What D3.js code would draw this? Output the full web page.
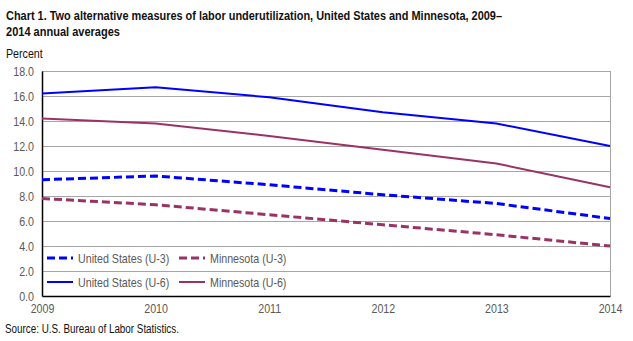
<!DOCTYPE html>
<html>
<head>
<meta charset="utf-8">
<script src="https://cdn.jsdelivr.net/npm/d3@7"></script>
<style>
  body { margin: 0; background: #fff; }
  svg { display: block; font-family: Arial, "Liberation Sans", sans-serif; }
</style>
</head>
<body>
<svg width="633" height="341"></svg>
<script>
const YEARS = [2009, 2010, 2011, 2012, 2013, 2014]
const US_U3 = [9.3, 9.6, 8.9, 8.1, 7.4, 6.2]
const MN_U3 = [7.8, 7.3, 6.5, 5.7, 4.9, 4.0]
const US_U6 = [16.2, 16.7, 15.9, 14.7, 13.8, 12.0]
const MN_U6 = [14.2, 13.8, 12.8, 11.7, 10.6, 8.7]
const Y_TICKS = [0, 2, 4, 6, 8, 10, 12, 14, 16, 18]

const BLUE = '#0000ff'
const PLUM = '#993366'
const FONT = 'Arial, "Liberation Sans", sans-serif'
const SQUEEZE = 0.82

const series = [
  { name: 'United States (U-3)', values: US_U3, color: BLUE, dash: '8,4', width: 3 },
  { name: 'Minnesota (U-3)', values: MN_U3, color: PLUM, dash: '8,4', width: 3 },
  { name: 'United States (U-6)', values: US_U6, color: BLUE, dash: null, width: 2 },
  { name: 'Minnesota (U-6)', values: MN_U6, color: PLUM, dash: null, width: 2 }
]

// the reference uses a narrow-looking face, so compress text horizontally
function squeeze (sel, factor) {
  sel.each(function () {
    const len = this.getComputedTextLength()
    d3.select(this)
      .attr('textLength', len * factor)
      .attr('lengthAdjust', 'spacingAndGlyphs')
  })
}

const svg = d3.select('svg')
const margin = { left: 42, right: 23, top: 71, bottom: 45 }
const width = 633 - margin.left - margin.right
const height = 341 - margin.top - margin.bottom

const x = d3.scaleLinear().domain([2009, 2014]).range([0, width])
const y = d3.scaleLinear().domain([0, 18]).range([height, 0])

// title
svg.append('text')
  .attr('x', 6).attr('y', 20)
  .attr('font-weight', 'bold').attr('font-size', 13).attr('fill', '#111')
  .attr('textLength', 496).attr('lengthAdjust', 'spacingAndGlyphs')
  .text('Chart 1. Two alternative measures of labor underutilization, United States and Minnesota, 2009\u2013')
svg.append('text')
  .attr('x', 6).attr('y', 36)
  .attr('font-weight', 'bold').attr('font-size', 13).attr('fill', '#111')
  .attr('textLength', 114).attr('lengthAdjust', 'spacingAndGlyphs')
  .text('2014 annual averages')

svg.append('text')
  .attr('x', 6).attr('y', 58)
  .attr('font-size', 13).attr('fill', '#111')
  .text('Percent')
  .call(squeeze, SQUEEZE)

const g = svg.append('g').attr('transform', `translate(${margin.left},${margin.top})`)

// gridlines
g.append('g')
  .selectAll('line')
  .data(Y_TICKS.filter(d => d > 0))
  .enter().append('line')
  .attr('x1', 0).attr('x2', width)
  .attr('y1', d => Math.round(y(d)) + 0.5)
  .attr('y2', d => Math.round(y(d)) + 0.5)
  .attr('stroke', '#a6a6a6')

// right border
g.append('line')
  .attr('x1', width + 0.5).attr('x2', width + 0.5)
  .attr('y1', 0).attr('y2', height)
  .attr('stroke', '#a6a6a6')

// axes
const yAxis = g.append('g')
  .call(d3.axisLeft(y).tickValues(Y_TICKS).tickFormat(d3.format('.1f')).tickSize(0).tickPadding(8))
yAxis.select('.domain').attr('stroke', '#000').attr('stroke-width', 1.5)
yAxis.selectAll('text').attr('font-size', 13).attr('fill', '#595959').attr('font-family', FONT)
  .call(squeeze, SQUEEZE)

const xAxis = g.append('g')
  .attr('transform', `translate(0,${height})`)
  .call(d3.axisBottom(x).tickValues(YEARS).tickFormat(d3.format('d')).tickSize(0).tickPadding(8))
xAxis.select('.domain').attr('stroke', '#000').attr('stroke-width', 1.5)
xAxis.selectAll('text').attr('font-size', 13).attr('fill', '#595959').attr('font-family', FONT)
  .call(squeeze, SQUEEZE)

// lines
const line = d3.line()
  .x((d, i) => x(YEARS[i]))
  .y(d => y(d))

g.append('g')
  .selectAll('path')
  .data(series)
  .enter().append('path')
  .attr('d', d => line(d.values))
  .attr('fill', 'none')
  .attr('stroke', d => d.color)
  .attr('stroke-width', d => d.width)
  .attr('stroke-dasharray', d => d.dash)

// legend
const legend = g.append('g')
  .selectAll('g')
  .data(series)
  .enter().append('g')
  .attr('transform', (d, i) => `translate(${5 + (i % 2) * 132},${187 + Math.floor(i / 2) * 24})`)

legend.append('line')
  .attr('x1', 0).attr('x2', 26)
  .attr('y1', 0).attr('y2', 0)
  .attr('stroke', d => d.color)
  .attr('stroke-width', d => d.width)
  .attr('stroke-dasharray', d => d.dash)

legend.append('text')
  .attr('x', 31).attr('y', 4.5)
  .attr('font-size', 13)
  .attr('fill', '#595959')
  .text(d => d.name)
  .call(squeeze, SQUEEZE)

svg.append('text')
  .attr('x', 5).attr('y', 333)
  .attr('font-size', 12).attr('fill', '#111')
  .text('Source: U.S. Bureau of Labor Statistics.')
  .call(squeeze, SQUEEZE)
</script>
</body>
</html>
